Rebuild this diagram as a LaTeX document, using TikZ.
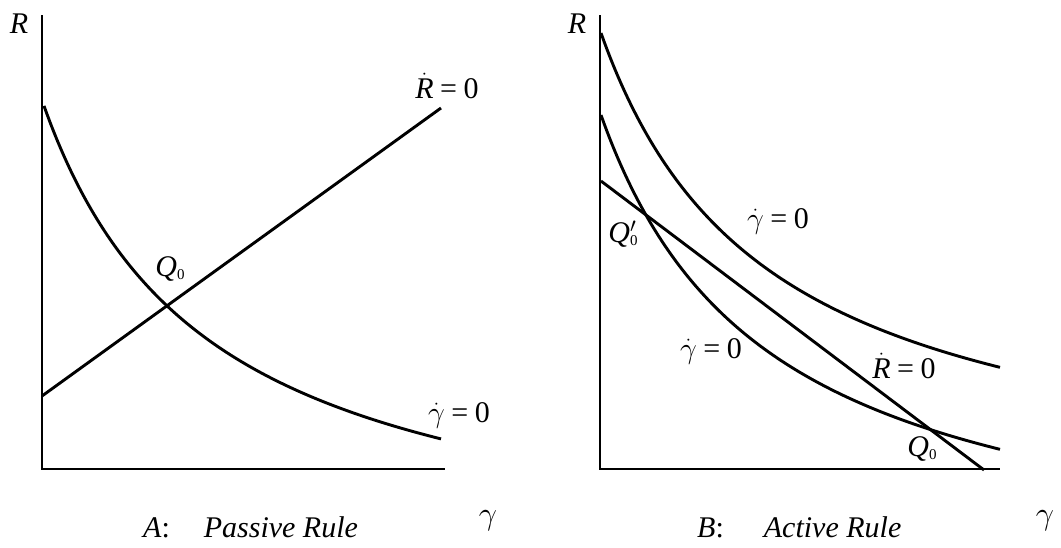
\documentclass[tikz,border=0pt]{standalone}
\usepackage{fontspec}
\setmainfont{Liberation Serif}
\newcommand\dotR{$\dot{\mbox{\itshape R}}$}
\newcommand\dotg{$\dot{\mbox{\scalebox{1.2}{$\gamma$}}}$}
\newcommand\eqz{\hspace{0.22em}=\hspace{0.22em}0}
\newcommand\subz{\raisebox{-0.12em}{\fontsize{15}{15}\selectfont\upshape 0}}
\newcommand\biggamma{\scalebox{1.3}{$\gamma$}}
\tikzset{
  axis/.style={line width=1.8pt},
  curve/.style={line width=2.9pt},
  lab/.style={font=\fontsize{30}{30}\selectfont, inner sep=0pt, anchor=base},
  caplab/.style={font=\fontsize{30}{30}\selectfont, inner sep=0pt, anchor=base west},
}
\begin{document}
\begin{tikzpicture}[x=1pt,y=-1pt]
\useasboundingbox (0,0) rectangle (1061,547);
% Panel A
\coordinate (A0) at (42,469);
\coordinate (Atop) at (42,15);
\coordinate (Aend) at (445,469);
\draw[axis] (Atop) -- (A0) -- (Aend);
\coordinate (ARs) at (42,396);
\coordinate (ARe) at (441,108);
\draw[curve] (ARs) -- (ARe);
\draw[curve] plot[domain=44:441, samples=120] (\x, {580.8 - 802.94/(0.01*\x+1.251)});
\node[lab] (AR) at (19,33) {\itshape R};
\node[lab] (Ag) at (488,524) {\biggamma};
\node[lab] (ARlab) at (447,98) {\dotR\eqz};
\node[lab] (Aglab) at (459,422) {\dotg\eqz};
\node[lab] (AQ) at (170,276) {\itshape Q\subz};
\node[caplab] (Acap) at (143,537) {\itshape A\upshape:\hspace{34pt}\itshape Passive Rule};
% Panel B
\coordinate (B0) at (600,469);
\coordinate (Btop) at (600,15);
\coordinate (Bend) at (1000,469);
\draw[axis] (Btop) -- (B0) -- (Bend);
\coordinate (BRs) at (601,181);
\coordinate (BRe) at (984,470);
\draw[curve] (BRs) -- (BRe);
\draw[curve] plot[domain=601:1000, samples=120] (\x, {508.8 - 802.94/(0.01*\x-4.319)});
\draw[curve] plot[domain=601:1000, samples=120] (\x, {590.8 - 802.94/(0.01*\x-4.319)});
\node[lab] (BR) at (577,33) {\itshape R};
\node[lab] (Bg) at (1045,524) {\biggamma};
\node[lab] (BRlab) at (904,378) {\dotR\eqz};
\node[lab] (Bglab1) at (778,228) {\dotg\eqz};
\node[lab] (Bglab2) at (711,358) {\dotg\eqz};
\node[lab] (BQp) at (623,242) {\itshape Q\rlap{$'$}\subz};
\node[lab] (BQ) at (922,456) {\itshape Q\subz};
\node[caplab] (Bcap) at (697,537) {\itshape B\upshape:\hspace{40pt}\itshape Active Rule};
\end{tikzpicture}
\end{document}
